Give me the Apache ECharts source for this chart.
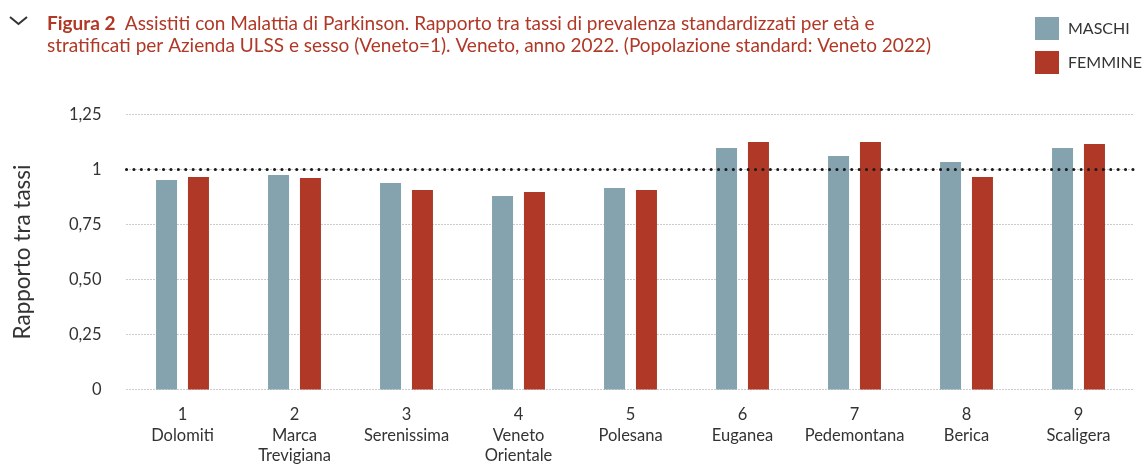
<!DOCTYPE html>
<html>
<head>
    <meta charset="UTF-8">
    <title>Figura 2 - Parkinson, rapporto tra tassi</title>
    <script src="https://cdn.jsdelivr.net/npm/echarts@6/dist/echarts.min.js"></script>
    <style>
        html, body { margin: 0; padding: 0; background: #fff; }
    </style>
</head>
<body>
<div id="main" style="width: 1143px;height:464px;"></div>

<script type="text/javascript">
    // dati
    var ulssNum = ['1', '2', '3', '4', '5', '6', '7', '8', '9'];
    var ulssNome = ['Dolomiti', 'Marca\nTrevigiana', 'Serenissima', 'Veneto\nOrientale', 'Polesana',
        'Euganea', 'Pedemontana', 'Berica', 'Scaligera'];
    var maschi = [0.952, 0.975, 0.939, 0.880, 0.916, 1.098, 1.061, 1.034, 1.098];
    var femmine = [0.966, 0.961, 0.907, 0.898, 0.907, 1.125, 1.125, 0.966, 1.116];
    var yTickLabels = ['0', '0,25', '0,50', '0,75', '1', '1,25'];

    var rosso = '#b03826';
    var grigio = '#85a2af';
    var font = 'Lato, "Open Sans", sans-serif';

    var categorie = ulssNum.map(function (n, i) {
        return n + '\n' + ulssNome[i];
    });

    var myChart = echarts.init(document.getElementById('main'));

    var option = {
        animation: false,
        textStyle: {fontFamily: font},
        title: {
            left: 42,
            top: 8,
            text: '{b|Figura 2}  {n|Assistiti con Malattia di Parkinson. Rapporto tra tassi di prevalenza standardizzati per età e}\n' +
                '{n|stratificati per Azienda ULSS e sesso (Veneto=1). Veneto, anno 2022. (Popolazione standard: Veneto 2022)}',
            textStyle: {
                fontWeight: 'normal',
                rich: {
                    b: {fontFamily: font, fontSize: 19, fontWeight: 'bold', color: rosso, lineHeight: 22},
                    n: {fontFamily: font, fontSize: 19, fontWeight: 'normal', color: rosso, lineHeight: 22}
                }
            }
        },
        graphic: [{
            type: 'polyline',
            shape: {points: [[10, 17], [18.5, 24], [27, 17]]},
            style: {stroke: '#333', lineWidth: 2, fill: null}
        }],
        legend: {
            orient: 'vertical',
            left: 1030,
            top: 12,
            itemWidth: 24,
            itemHeight: 23,
            itemGap: 11,
            icon: 'rect',
            textStyle: {fontFamily: font, fontSize: 16, color: '#333', padding: [0, 0, 0, 4]},
            data: ['MASCHI', 'FEMMINE']
        },
        grid: {
            left: 126.5,
            right: 8.5,
            top: 114.5,
            bottom: 74.5,
            outerBoundsMode: 'none'
        },
        xAxis: {
            type: 'category',
            data: categorie,
            axisLine: {show: false},
            axisTick: {show: false},
            axisLabel: {
                interval: 0,
                margin: 15,
                fontFamily: font,
                fontSize: 16.5,
                color: '#333',
                lineHeight: 20.5
            }
        },
        yAxis: {
            type: 'value',
            min: 0,
            max: 1.25,
            interval: 0.25,
            name: 'Rapporto tra tassi',
            nameLocation: 'middle',
            nameGap: 92,
            nameTextStyle: {fontFamily: font, fontSize: 22.5, color: '#333'},
            axisLine: {show: false},
            axisTick: {show: false},
            axisLabel: {
                margin: 25,
                fontFamily: font,
                fontSize: 16.5,
                color: '#333',
                formatter: function (v) {
                    return yTickLabels[Math.round(v / 0.25)];
                }
            },
            splitLine: {
                lineStyle: {color: '#999', width: 1, type: [1, 2]}
            }
        },
        series: [
            {
                name: 'riferimento',
                type: 'line',
                data: [],
                z: 1,
                silent: true,
                markLine: {
                    symbol: 'none',
                    silent: true,
                    label: {show: false},
                    lineStyle: {color: '#1a1a1a', width: 3, type: [0.1, 7.3], cap: 'round'},
                    data: [{yAxis: 1}]
                }
            },
            {
                name: 'MASCHI',
                type: 'bar',
                z: 3,
                barWidth: 21,
                barGap: '52%',
                itemStyle: {color: grigio},
                data: maschi
            },
            {
                name: 'FEMMINE',
                type: 'bar',
                z: 3,
                barWidth: 21,
                barGap: '52%',
                itemStyle: {color: rosso},
                data: femmine
            }
        ]
    };

    myChart.setOption(option);
</script>
</body>
</html>
